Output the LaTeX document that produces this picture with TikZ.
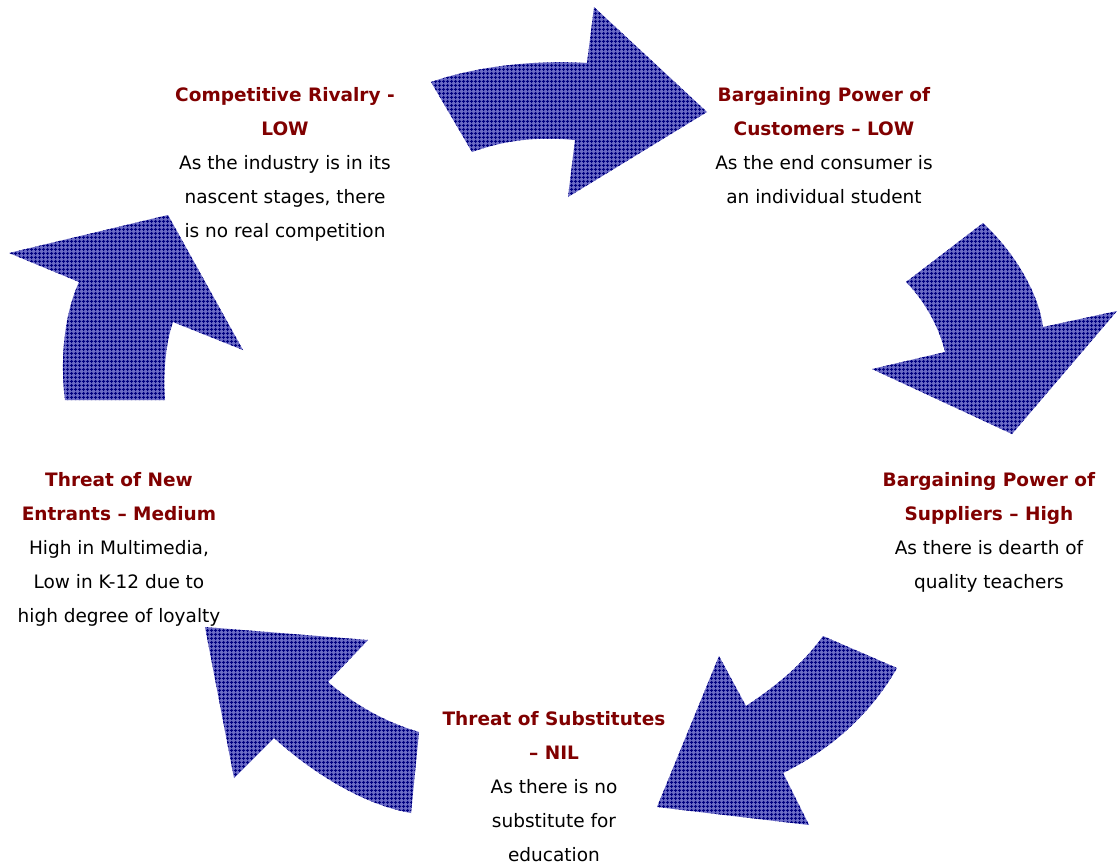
\documentclass[tikz,border=0pt]{standalone}
\usepackage{fontspec}
\setmainfont{DejaVu Sans}
\usetikzlibrary{patterns.meta}
\definecolor{arrowblue}{RGB}{108,108,198}
\definecolor{arrownavy}{RGB}{0,0,128}
\definecolor{titlered}{RGB}{128,0,0}
\tikzset{
  bigarrow/.style={fill=arrowblue,
    postaction={pattern={Hatch[angle=0, distance=4pt, line width=1.2pt]}, pattern color=arrownavy}},
  forceblock/.style={anchor=north, align=center, inner sep=0pt,
    font={\fontsize{18.5}{34}\selectfont}},
}
\newcommand{\ttl}[1]{\textcolor{titlered}{\textbf{#1}}}
\begin{document}
\begin{tikzpicture}[x=1pt, y=-1pt]
\useasboundingbox[fill=white] (0,0) rectangle (1119,865);

% top arrow: rivalry -> customers
\path[bigarrow] (431,82) .. controls (480,65) and (540,60) .. (587,63)
  -- (594,7) -- (707,112) -- (568,197) -- (575,140)
  .. controls (530,136) and (500,142) .. (472,152) -- cycle;

% right arrow: customers -> suppliers
\path[bigarrow] (983,223) .. controls (1012,250) and (1038,290) .. (1043,327)
  -- (1117,311) -- (1012,434) -- (872,369) -- (945,352)
  .. controls (940,330) and (926,302) .. (906,282) -- cycle;

% lower right arrow: suppliers -> substitutes
\path[bigarrow] (823,636) -- (897,668)
  .. controls (870,715) and (830,750) .. (783,773)
  -- (809,825) -- (657,807) -- (719,656) -- (746,706)
  .. controls (770,690) and (800,668) .. (823,636);

% lower left arrow: substitutes -> new entrants
\path[bigarrow] (205,627) -- (368,640) -- (328,682)
  .. controls (355,705) and (385,722) .. (419,732)
  -- (411,813)
  .. controls (365,805) and (315,775) .. (274,738)
  -- (234,778) -- cycle;

% left arrow: new entrants -> rivalry
\path[bigarrow] (9,253) -- (168,215) -- (243,350) -- (173,322)
  .. controls (166,342) and (163,370) .. (165,400)
  -- (65,400)
  .. controls (60,360) and (64,315) .. (79,282) -- cycle;

% text blocks
\node[forceblock] (rivalry) at (285,87) {\ttl{Competitive Rivalry -}\\\ttl{LOW}\\As the industry is in its\\nascent stages, there\\is no real competition};
\node[forceblock] (customers) at (824,87) {\ttl{Bargaining Power of}\\\ttl{Customers – LOW}\\As the end consumer is\\an individual student};
\node[forceblock] (suppliers) at (989,472) {\ttl{Bargaining Power of}\\\ttl{Suppliers – High}\\As there is dearth of\\quality teachers};
\node[forceblock] (entrants) at (119,472) {\ttl{Threat of New}\\\ttl{Entrants – Medium}\\High in Multimedia,\\Low in K-12 due to\\high degree of loyalty};
\node[forceblock] (substitutes) at (554,711) {\ttl{Threat of Substitutes}\\\ttl{– NIL}\\As there is no\\substitute for\\education};
\end{tikzpicture}
\end{document}
